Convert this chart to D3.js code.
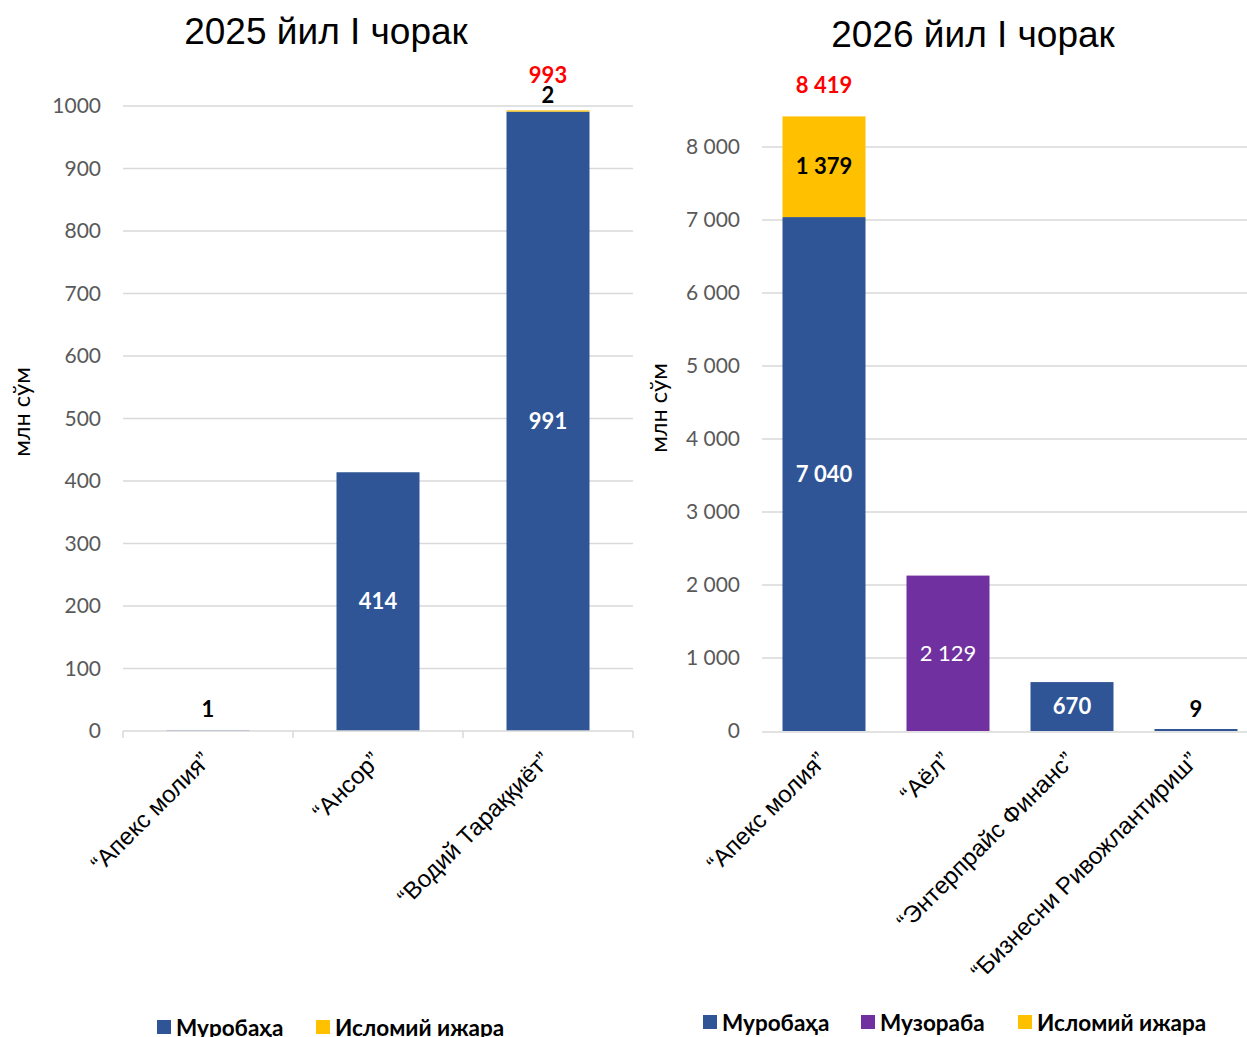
<!DOCTYPE html>
<html>
<head>
<meta charset="utf-8">
<script src="https://cdn.jsdelivr.net/npm/d3@7"></script>
<style>
  body { margin: 0; background: #fff; }
  svg { display: block; }
</style>
</head>
<body>
<svg id="chart"></svg>
<script>
const leftCategories = ['“Апекс молия”', '“Ансор”', '“Водий Тараққиёт”'];
const leftMurobaha = [1, 414, 991];
const leftIjara = [0, 0, 2];
const leftTicks = [0, 100, 200, 300, 400, 500, 600, 700, 800, 900, 1000];

const rightCategories = ['“Апекс молия”', '“Аёл”', '“Энтерпрайс Финанс”', '“Бизнесни Ривожлантириш”'];
const rightMurobaha = [7040, 0, 670, 9];
const rightMuzoraba = [0, 2129, 0, 0];
const rightIjara = [1379, 0, 0, 0];
const rightTicks = [0, 1000, 2000, 3000, 4000, 5000, 6000, 7000, 8000];

const colors = { murobaha: '#2F5597', muzoraba: '#7030A0', ijara: '#FFC000' };
const numFont = 'Lato, "Noto Sans", sans-serif';
const txtFont = 'Arial, "Liberation Sans", sans-serif';

const width = 1247, height = 1037;
const svg = d3.select('#chart').attr('width', width).attr('height', height);

const ru = d3.formatLocale({ decimal: ',', thousands: '\u00a0', grouping: [3], currency: ['', ''] });
const fmtSpace = ru.format(',d');
const fmtPlain = d3.format('d');

function drawChart(cfg) {
    const g = svg.append('g');
    const x = d3.scaleBand().domain(cfg.categories).range([cfg.x0, cfg.x1]).paddingInner(0).paddingOuter(0);
    const y = d3.scaleLinear().domain([0, cfg.max]).range([cfg.yBottom, cfg.yTop]);
    const bw = cfg.barWidth;

    // заголовок
    g.append('text').attr('x', cfg.titleX).attr('y', cfg.titleY)
        .attr('text-anchor', 'middle').attr('font-family', txtFont).attr('font-size', 37)
        .attr('fill', '#000').text(cfg.title);

    g.append('text').attr('transform', `translate(${cfg.yTitleX}, ${cfg.yTitleY}) rotate(-90)`)
        .attr('text-anchor', 'middle').attr('font-family', numFont).attr('font-size', 23.5)
        .attr('fill', '#000').text('млн сўм');

    g.selectAll('.grid').data(cfg.ticks.filter(d => d > 0)).enter().append('line')
        .attr('x1', cfg.x0).attr('x2', cfg.gridEnd)
        .attr('y1', d => y(d)).attr('y2', d => y(d))
        .attr('stroke', '#d9d9d9').attr('stroke-width', 1.5);

    g.selectAll('.tick').data(cfg.ticks).enter().append('text')
        .attr('x', cfg.x0 - 22).attr('y', d => y(d)).attr('dy', '0.35em')
        .attr('text-anchor', 'end').attr('font-family', numFont).attr('font-size', 21)
        .attr('fill', '#595959').text(d => cfg.fmt(d));

    const series = cfg.series;
    const rows = cfg.categories.map((c, i) => {
        const r = { cat: c };
        series.forEach(s => r[s.key] = s.values[i]);
        return r;
    });
    const stack = d3.stack().keys(series.map(s => s.key))(rows);
    stack.forEach(layer => {
        const s = series.find(q => q.key === layer.key);
        g.selectAll(null).data(layer).enter().append('rect')
            .filter(d => d[1] - d[0] > 0)
            .attr('x', d => x(d.data.cat) + (x.bandwidth() - bw) / 2)
            .attr('width', bw)
            .attr('y', d => Math.min(y(d[1]), y(d[0]) - cfg.minH))
            .attr('height', d => Math.max(y(d[0]) - y(d[1]), cfg.minH))
            .attr('fill', s.color);
    });

    // ось X
    g.append('line').attr('x1', cfg.x0).attr('x2', cfg.gridEnd)
        .attr('y1', y(0) + cfg.axisOff).attr('y2', y(0) + cfg.axisOff).attr('stroke', '#d9d9d9').attr('stroke-width', 1.5);
    if (cfg.tickMarks) {
        const bounds = cfg.categories.map(c => x(c)).concat([cfg.x1]);
        g.selectAll(null).data(bounds).enter().append('line')
            .attr('x1', d => d).attr('x2', d => d)
            .attr('y1', y(0)).attr('y2', y(0) + 7)
            .attr('stroke', '#d9d9d9').attr('stroke-width', 1.5);
    }

    g.selectAll(null).data(cfg.categories).enter().append('text')
        .attr('transform', d => `translate(${x(d) + x.bandwidth() / 2 + 4}, ${y(0) + 31}) rotate(-45)`)
        .attr('text-anchor', 'end').attr('font-family', txtFont).attr('font-size', 24)
        .attr('fill', '#000').text(d => d);

    // подписи данных
    cfg.labels.forEach(l => {
        const cx = x(cfg.categories[l.i]) + x.bandwidth() / 2;
        const s = series.find(q => q.key === l.key);
        let base = 0;
        for (const q of series) { if (q.key === l.key) break; base += q.values[l.i]; }
        const v = l.key === 'total' ? d3.sum(series, q => q.values[l.i]) : s.values[l.i];
        let ly;
        if (l.pos === 'inside') ly = (y(base) + y(base + v)) / 2;
        else ly = y(base + v) - (l.off || 20);
        if (l.key === 'total') ly = y(v) - (l.off || 30);
        g.append('text').attr('x', cx).attr('y', ly).attr('dy', '0.35em')
            .attr('text-anchor', 'middle').attr('font-family', numFont)
            .attr('font-size', 22).attr('font-weight', l.bold === false ? 'normal' : 'bold')
            .attr('fill', l.color).text(cfg.fmt(v));
    });

    // легенда
    let lx = cfg.legendX;
    series.filter(s => s.legend).forEach(s => {
        g.append('rect').attr('x', lx).attr('y', cfg.legendY - 7).attr('width', 14).attr('height', 14).attr('fill', s.color);
        g.append('text').attr('x', lx + 19).attr('y', cfg.legendY).attr('dy', '0.38em')
            .attr('font-family', numFont).attr('font-size', 22.5).attr('font-weight', 'bold')
            .attr('fill', '#000').text(s.name);
        lx += s.legendStep;
    });
}

drawChart({
    title: '2025 йил I чорак', titleX: 326, titleY: 44,
    yTitleX: 30, yTitleY: 412,
    categories: leftCategories,
    x0: 123, x1: 633, gridEnd: 633, barWidth: 83, minH: 0, axisOff: 0,
    yTop: 106, yBottom: 731, max: 1000,
    ticks: leftTicks, fmt: fmtPlain, tickMarks: true,
    series: [
        { key: 'murobaha', name: 'Муробаҳа', values: leftMurobaha, color: colors.murobaha, legend: true, legendStep: 159 },
        { key: 'ijara', name: 'Исломий ижара', values: leftIjara, color: colors.ijara, legend: true, legendStep: 160 }
    ],
    labels: [
        { i: 0, key: 'murobaha', pos: 'above', color: '#000', off: 21 },
        { i: 1, key: 'murobaha', pos: 'inside', color: '#fff' },
        { i: 2, key: 'murobaha', pos: 'inside', color: '#fff' },
        { i: 2, key: 'ijara', pos: 'above', color: '#000', off: 15 },
        { i: 2, key: 'total', color: '#ff0000', off: 35 }
    ],
    legendX: 157, legendY: 1027
});

drawChart({
    title: '2026 йил I чорак', titleX: 973, titleY: 47,
    yTitleX: 667, yTitleY: 408,
    categories: rightCategories,
    x0: 762, x1: 1258, gridEnd: 1247, barWidth: 83, minH: 2, axisOff: 1,
    yTop: 147, yBottom: 731, max: 8000,
    ticks: rightTicks, fmt: fmtSpace, tickMarks: false,
    series: [
        { key: 'murobaha', name: 'Муробаҳа', values: rightMurobaha, color: colors.murobaha, legend: true, legendStep: 158 },
        { key: 'muzoraba', name: 'Музораба', values: rightMuzoraba, color: colors.muzoraba, legend: true, legendStep: 157 },
        { key: 'ijara', name: 'Исломий ижара', values: rightIjara, color: colors.ijara, legend: true, legendStep: 160 }
    ],
    labels: [
        { i: 0, key: 'murobaha', pos: 'inside', color: '#fff' },
        { i: 0, key: 'ijara', pos: 'inside', color: '#000' },
        { i: 0, key: 'total', color: '#ff0000', off: 31 },
        { i: 1, key: 'muzoraba', pos: 'inside', color: '#fff', bold: false },
        { i: 2, key: 'murobaha', pos: 'inside', color: '#fff' },
        { i: 3, key: 'murobaha', pos: 'above', color: '#000', off: 21 }
    ],
    legendX: 703, legendY: 1022
});
</script>
</body>
</html>
